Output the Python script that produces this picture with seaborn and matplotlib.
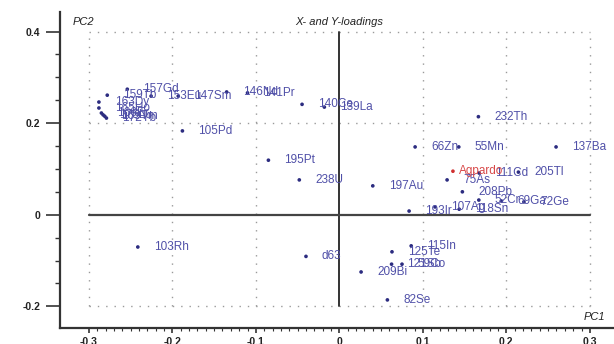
import matplotlib
matplotlib.use("Agg")
import matplotlib.pyplot as plt
import seaborn as sns
import pandas as pd
import numpy as np

# ---- data ----
x_names = ["157Gd", "159Tb", "163Dy", "165Ho", "166Er", "169Tm", "172Yb", "175Lu",
           "153Eu", "147Sm", "146Nd", "141Pr", "140Ce", "139La", "105Pd", "195Pt",
           "238U", "197Au", "232Th", "66Zn", "55Mn", "137Ba", "205Tl", "111Cd",
           "75As", "208Pb", "52Cr", "69Ga", "72Ge", "118Sn", "107Ag", "193Ir",
           "115In", "125Te", "121Sb", "59Co", "209Bi", "82Se", "d63", "103Rh"]
x_pc1 = [-0.254, -0.278, -0.288, -0.288, -0.285, -0.281, -0.279, -0.283,
         -0.2255, -0.193, -0.135, -0.110, -0.0447, -0.018, -0.188, -0.085,
         -0.048, 0.040, 0.1665, 0.0907, 0.143, 0.2595, 0.2144, 0.1673,
         0.129, 0.1473, 0.167, 0.194, 0.221, 0.1435, 0.1146, 0.0835,
         0.086, 0.063, 0.0625, 0.075, 0.026, 0.0575, -0.040, -0.2414]
x_pc2 = [0.274, 0.261, 0.246, 0.233, 0.222, 0.215, 0.211, 0.218,
         0.259, 0.259, 0.268, 0.266, 0.241, 0.235, 0.183, 0.119,
         0.076, 0.063, 0.214, 0.148, 0.148, 0.148, 0.093, 0.091,
         0.076, 0.050, 0.032, 0.030, 0.028, 0.012, 0.017, 0.008,
         -0.068, -0.081, -0.108, -0.108, -0.125, -0.186, -0.091, -0.0705]

y_names = ["Agpardo"]
y_pc1 = [0.136]
y_pc2 = [0.095]

xticks = [-0.3, -0.2, -0.1, 0.0, 0.1, 0.2, 0.3]
xtick_labels = ["-0.3", "-0.2", "-0.1", "0", "0.1", "0.2", "0.3"]
yticks = [-0.2, 0.0, 0.2, 0.4]
ytick_labels = ["-0.2", "0", "0.2", "0.4"]

df = pd.DataFrame({
    "name": x_names + y_names,
    "PC1": x_pc1 + y_pc1,
    "PC2": x_pc2 + y_pc2,
    "kind": ["X"] * len(x_names) + ["Y"] * len(y_names),
})

sns.set_style("white")
plt.rcParams["font.family"] = ["Liberation Sans", "DejaVu Sans"]

fig = plt.figure(figsize=(6.14, 3.44), dpi=100)
ax = fig.add_axes([60 / 614, (344 - 327.7) / 344, 554 / 614, (327.7 - 12) / 344])

DOT = {"X": "#2c2c80", "Y": "#d03030"}
LAB = {"X": "#5050a8", "Y": "#d84848"}

# grid box
gc = "#9a9a9a"
for gx in [-0.3, -0.2, -0.1, 0.1, 0.2, 0.3]:
    ax.plot([gx, gx], [-0.2, 0.4], color=gc, lw=1.0, ls=(0, (1, 5)), zorder=1)
for gy in [-0.2, 0.2, 0.4]:
    ax.plot([-0.3, 0.3], [gy, gy], color=gc, lw=1.0, ls=(0, (1, 5)), zorder=1)
ax.plot([0, 0], [-0.2, 0.4], color="#333333", lw=1.4, zorder=2)
ax.plot([-0.3, 0.3], [0, 0], color="#444444", lw=1.6, zorder=2)

sns.scatterplot(data=df, x="PC1", y="PC2", hue="kind", palette=DOT, s=7,
                linewidth=0, legend=False, ax=ax, zorder=3)

for _, r in df.iterrows():
    off = 11.5 if r["kind"] == "X" else 4.3
    ax.annotate(r["name"], (r["PC1"], r["PC2"]), xytext=(off, 0),
                textcoords="offset points", va="center", ha="left",
                fontsize=8.5, color=LAB[r["kind"]], zorder=4)

ax.set_xlim(-0.3346, 0.3289)
ax.set_ylim(-0.2467, 0.4426)
ax.set_xlabel("")
ax.set_ylabel("")

ax.set_xticks(xticks)
ax.set_xticklabels(xtick_labels, fontweight="bold", fontsize=7.5, color="#222222")
ax.set_yticks(yticks)
ax.set_yticklabels(ytick_labels, fontweight="bold", fontsize=7.5, color="#222222")
ax.set_xticks(np.arange(-0.3, 0.3001, 0.01), minor=True)
ax.set_yticks(np.arange(-0.2, 0.4001, 0.05), minor=True)
ax.tick_params(axis="y", which="major", length=10, width=1.2, pad=4.3, color="#333333")
ax.tick_params(axis="y", which="minor", length=3.6, width=1.0, color="#333333")
ax.tick_params(axis="x", which="major", length=3.6, width=1.2, pad=3, color="#333333")
ax.tick_params(axis="x", which="minor", length=2.2, width=0.8, color="#333333")
ax.tick_params(left=True, bottom=True, which="both", direction="out")

sns.despine(ax=ax, top=True, right=True)
for sp in ["left", "bottom"]:
    ax.spines[sp].set_linewidth(1.6)
    ax.spines[sp].set_color("#333333")

ax.text(-0.320, 0.421, "PC2", fontsize=8, style="italic", color="#222222",
        ha="left", va="center")
ax.text(0.0, 0.421, "X- and Y-loadings", fontsize=8, style="italic",
        color="#222222", ha="center", va="center")
ax.text(0.292, -0.223, "PC1", fontsize=8, style="italic", color="#222222",
        ha="left", va="center")

fig.savefig("out.png", dpi=100)
